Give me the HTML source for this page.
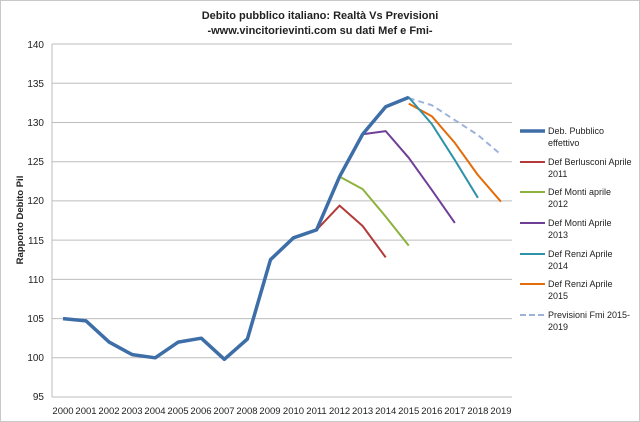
<!DOCTYPE html><html><head><meta charset="utf-8"><style>body{margin:0;background:#fff}svg{display:block;font-family:"Liberation Sans",Arial,sans-serif}</style></head><body>
<svg width="640" height="422" viewBox="0 0 640 422">
<rect x="0.5" y="0.5" width="639" height="421" fill="#fff" stroke="#c8c8c8"/>
<text x="320" y="19" text-anchor="middle" font-size="11" font-weight="bold" fill="#222">Debito pubblico italiano: Realtà Vs Previsioni</text>
<text x="320" y="34" text-anchor="middle" font-size="11" font-weight="bold" fill="#222">-www.vincitorievinti.com su dati Mef e Fmi-</text>
<g stroke="#bdbdbd" stroke-width="1">
<line x1="52" x2="512" y1="44" y2="44"/><line x1="52" x2="512" y1="83.3" y2="83.3"/><line x1="52" x2="512" y1="122.5" y2="122.5"/><line x1="52" x2="512" y1="161.7" y2="161.7"/><line x1="52" x2="512" y1="200.9" y2="200.9"/><line x1="52" x2="512" y1="240.1" y2="240.1"/><line x1="52" x2="512" y1="279.4" y2="279.4"/><line x1="52" x2="512" y1="318.6" y2="318.6"/><line x1="52" x2="512" y1="357.8" y2="357.8"/><line x1="52" x2="512" y1="397" y2="397"/>
<line x1="52" x2="52" y1="44" y2="397"/>
</g>
<g font-size="10" fill="#222" text-anchor="end">
<text x="44" y="48">140</text><text x="44" y="87">135</text><text x="44" y="126">130</text><text x="44" y="165">125</text><text x="44" y="204">120</text><text x="44" y="244">115</text><text x="44" y="283">110</text><text x="44" y="322">105</text><text x="44" y="361">100</text><text x="44" y="400">95</text>
</g>
<text transform="translate(23,220) rotate(-90)" text-anchor="middle" font-size="9.5" font-weight="bold" fill="#222">Rapporto Debito Pil</text>
<g font-size="9.5" fill="#222" text-anchor="middle">
<text x="63" y="414">2000</text><text x="86" y="414">2001</text><text x="109" y="414">2002</text><text x="132" y="414">2003</text><text x="155" y="414">2004</text><text x="178" y="414">2005</text><text x="201" y="414">2006</text><text x="224" y="414">2007</text><text x="247" y="414">2008</text><text x="270" y="414">2009</text><text x="293.5" y="414">2010</text><text x="316.5" y="414">2011</text><text x="339.6" y="414">2012</text><text x="362.6" y="414">2013</text><text x="385.7" y="414">2014</text><text x="408.7" y="414">2015</text><text x="431.8" y="414">2016</text><text x="454.8" y="414">2017</text><text x="477.9" y="414">2018</text><text x="501" y="414">2019</text>
</g>
<g fill="none" stroke-linejoin="round">
<polyline stroke="#9db3dc" stroke-width="2" stroke-dasharray="6,4" points="408.75,98.1 431.8,105.2 454.85,120.1 477.9,135 500.95,154.6"/>
<polyline stroke="#e46c0a" stroke-width="2" points="408.75,103.6 431.8,116.2 454.85,142.9 477.9,175 500.95,201.7"/>
<polyline stroke="#2e93a9" stroke-width="2" points="385.7,106.8 408.75,97.4 431.8,124 454.85,160.1 477.9,197.8"/>
<polyline stroke="#6f3f97" stroke-width="2" points="362.65,134.2 385.7,131.1 408.75,157.8 431.8,189.9 454.85,222.9"/>
<polyline stroke="#8db23d" stroke-width="2" points="339.6,176.6 362.65,189.1 385.7,216.6 408.75,245.6"/>
<polyline stroke="#b33a3a" stroke-width="2" points="316.55,229.9 339.6,205.6 362.65,226 385.7,257.4"/>
<polyline stroke="#3e6ea8" stroke-width="3.5" points="63,318.6 86.05,320.9 109.1,342.1 132.15,354.6 155.2,357.8 178.25,342.1 201.3,338.2 224.35,359.3 247.4,339 270.45,259.7 293.5,237.8 316.55,229.9 339.6,176.6 362.65,134.2 385.7,106.8 408.75,97.4"/>
</g>
<g font-size="9" fill="#222">
<line x1="520" x2="545" y1="131" y2="131" stroke="#3e6ea8" stroke-width="3.5"/><text x="548" y="134">Deb. Pubblico</text><text x="548" y="146">effettivo</text>
<line x1="520" x2="545" y1="162" y2="162" stroke="#b33a3a" stroke-width="2"/><text x="548" y="165">Def Berlusconi Aprile</text><text x="548" y="177">2011</text>
<line x1="520" x2="545" y1="192" y2="192" stroke="#8db23d" stroke-width="2"/><text x="548" y="195">Def Monti aprile</text><text x="548" y="207">2012</text>
<line x1="520" x2="545" y1="223" y2="223" stroke="#6f3f97" stroke-width="2"/><text x="548" y="226">Def Monti Aprile</text><text x="548" y="238">2013</text>
<line x1="520" x2="545" y1="254" y2="254" stroke="#2e93a9" stroke-width="2"/><text x="548" y="257">Def Renzi Aprile</text><text x="548" y="269">2014</text>
<line x1="520" x2="545" y1="284" y2="284" stroke="#e46c0a" stroke-width="2"/><text x="548" y="287">Def Renzi Aprile</text><text x="548" y="299">2015</text>
<line x1="520" x2="545" y1="315" y2="315" stroke="#9db3dc" stroke-width="2" stroke-dasharray="6,3"/><text x="548" y="318">Previsioni Fmi 2015-</text><text x="548" y="330">2019</text>
</g>
</svg></body></html>
